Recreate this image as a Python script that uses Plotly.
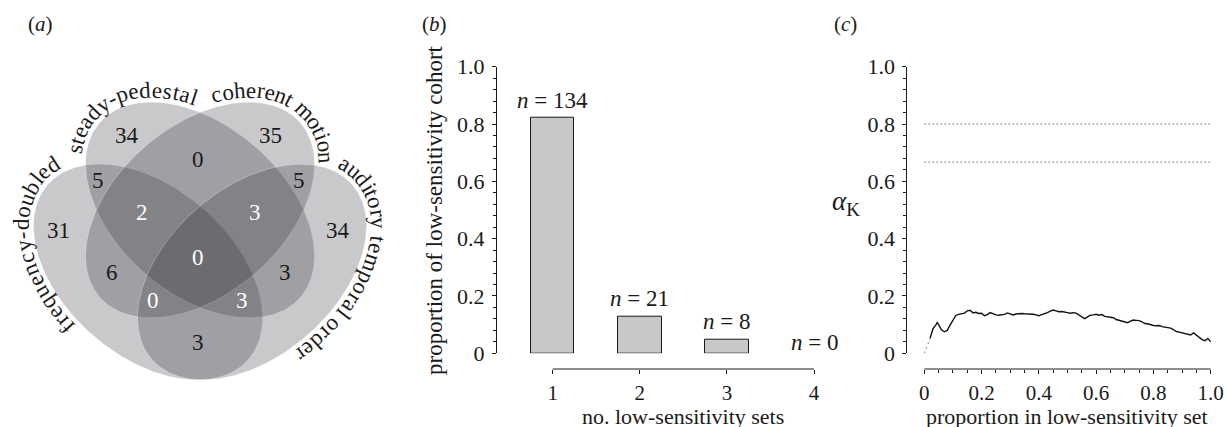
import numpy as np
import plotly.graph_objects as go

W, H = 1229, 427
FONT = "Liberation Serif, Times New Roman, serif"
INK = "#1a1a1a"

# ---------------- data ----------------
# (a) Venn diagram
SET_KEYS = ["F", "S", "C", "A"]
SET_NAMES = ["frequency-doubled", "steady-pedestal", "coherent motion", "auditory temporal order"]
REGION_KEYS = ["S", "C", "SC", "FS", "CA", "F", "FSC", "SCA", "A", "FSCA", "FC", "SA", "FCA", "FSA", "FA"]
REGION_COUNTS = [34, 35, 0, 5, 5, 31, 2, 3, 34, 0, 6, 3, 0, 3, 3]

# (b) bar chart
N_SETS = [1, 2, 3, 4]
N_COUNTS = [134, 21, 8, 0]

# (c) alpha_K curve
PROP_START = [0.0, 0.005, 0.01, 0.015, 0.02]
ALPHA_START = [0.0, 0.012, 0.026, 0.040, 0.052]
PROP = [0.02, 0.03, 0.04, 0.045, 0.05, 0.055, 0.06, 0.07, 0.08, 0.09,
        0.10, 0.11, 0.12, 0.13, 0.14, 0.15, 0.16, 0.17, 0.18, 0.19,
        0.20, 0.21, 0.22, 0.23, 0.24, 0.25, 0.26, 0.27, 0.28, 0.29,
        0.30, 0.31, 0.32, 0.33, 0.34, 0.35, 0.36, 0.37, 0.38, 0.39,
        0.40, 0.41, 0.42, 0.43, 0.44, 0.45, 0.46, 0.47, 0.48, 0.49,
        0.50, 0.51, 0.52, 0.53, 0.54, 0.55, 0.56, 0.57, 0.58, 0.59,
        0.60, 0.61, 0.62, 0.63, 0.64, 0.65, 0.66, 0.67, 0.68, 0.69,
        0.70, 0.71, 0.72, 0.73, 0.74, 0.75, 0.76, 0.77, 0.78, 0.79,
        0.80, 0.81, 0.82, 0.83, 0.84, 0.85, 0.86, 0.87, 0.88, 0.89,
        0.90, 0.91, 0.92, 0.93, 0.94, 0.95, 0.96, 0.97, 0.98, 0.99, 1.00]
ALPHA_K = [0.052, 0.085, 0.098, 0.107, 0.100, 0.088, 0.082, 0.075, 0.080, 0.098,
           0.115, 0.132, 0.136, 0.137, 0.140, 0.148, 0.150, 0.141, 0.143, 0.139,
           0.140, 0.131, 0.135, 0.142, 0.138, 0.134, 0.133, 0.135, 0.136, 0.141,
           0.138, 0.134, 0.137, 0.139, 0.139, 0.138, 0.138, 0.137, 0.136, 0.134,
           0.131, 0.135, 0.138, 0.142, 0.147, 0.151, 0.148, 0.145, 0.146, 0.143,
           0.142, 0.140, 0.142, 0.140, 0.132, 0.127, 0.121, 0.126, 0.133, 0.134,
           0.136, 0.133, 0.135, 0.129, 0.128, 0.126, 0.124, 0.118, 0.115, 0.113,
           0.109, 0.107, 0.112, 0.116, 0.115, 0.114, 0.110, 0.104, 0.103, 0.099,
           0.097, 0.096, 0.097, 0.093, 0.091, 0.089, 0.088, 0.083, 0.076, 0.074,
           0.071, 0.069, 0.066, 0.064, 0.071, 0.063, 0.056, 0.048, 0.044, 0.052, 0.040]
THRESHOLDS = [0.8, 0.667]

Y_TICKS = [0, 0.2, 0.4, 0.6, 0.8, 1.0]
Y_TICKTEXT = ["0", "0.2", "0.4", "0.6", "0.8", "1.0"]
X_TICKS_C = [0, 0.2, 0.4, 0.6, 0.8, 1.0]
X_TICKTEXT_C = ["0", "0.2", "0.4", "0.6", "0.8", "1.0"]

# ---------------- layout constants (pixels) ----------------
ELL_A, ELL_B = 133.0, 84.0
ELLIPSE_GEOM = {"F": (148, 272, 41), "S": (200, 210, 41), "C": (200, 210, 139), "A": (252, 272, 139)}
ELL_FILL = "rgba(40,40,46,0.25)"
ELL_EDGE = "rgba(255,255,255,0.35)"
VENN_LABEL_POS = {"S": (127, 135), "C": (270, 135), "SC": (198, 159), "FS": (98, 180), "CA": (299, 180),
                  "F": (58, 230), "FSC": (142, 212), "SCA": (255, 212), "A": (338, 230),
                  "FSCA": (198, 257), "FC": (112, 272), "SA": (285, 272), "FCA": (153, 300),
                  "FSA": (242, 300), "FA": (198, 342)}
LABEL_ARCS = {"S": ((73, 148), (193, 100)), "C": ((217, 97), (325, 158)),
              "F": ((69, 326), (53, 164)), "A": ((343, 166), (302, 355))}
LABEL_OFFSET = 12
TIMES_W = {"a": 444, "b": 500, "c": 444, "d": 500, "e": 444, "f": 333, "h": 500, "i": 278, "l": 278,
           "m": 778, "n": 500, "o": 500, "p": 500, "q": 500, "r": 333, "s": 389, "t": 278, "u": 500,
           "v": 500, "y": 500, "-": 333, " ": 250}


def px_x(p):
    return p / W


def px_y(p):
    return 1 - p / H


fig = go.Figure()
annotations = []


# ---------------- (a) Venn ----------------
def ellipse_curve(key, offset=0.0, n=2400):
    cx, cy, th = ELLIPSE_GEOM[key]
    th = np.radians(th)
    t = np.linspace(0, 2 * np.pi, n, endpoint=False)
    ux, uy = np.cos(th), np.sin(th)
    vx, vy = -np.sin(th), np.cos(th)
    x = cx + ELL_A * np.cos(t) * ux + ELL_B * np.sin(t) * vx
    y = cy + ELL_A * np.cos(t) * uy + ELL_B * np.sin(t) * vy
    dx = -ELL_A * np.sin(t) * ux + ELL_B * np.cos(t) * vx
    dy = -ELL_A * np.sin(t) * uy + ELL_B * np.cos(t) * vy
    nr = np.hypot(dx, dy)
    return x + offset * dy / nr, y - offset * dx / nr, dx, dy


for key in SET_KEYS:
    x, y, _, _ = ellipse_curve(key, 0.0, 400)
    fig.add_trace(go.Scatter(x=np.append(x, x[0]), y=np.append(y, y[0]), mode="lines", fill="toself",
                             fillcolor=ELL_FILL, line=dict(color=ELL_EDGE, width=0.8),
                             xaxis="x", yaxis="y", hoverinfo="skip", showlegend=False))

for rk, cnt in zip(REGION_KEYS, REGION_COUNTS):
    px, py = VENN_LABEL_POS[rk]
    annotations.append(dict(x=px, y=py, xref="x", yref="y", text=str(cnt), showarrow=False,
                            font=dict(family=FONT, size=23, color="white" if len(rk) >= 3 else INK),
                            xanchor="center", yanchor="middle"))


def arc_text(key, text, size):
    ox, oy, tx, ty = ellipse_curve(key, LABEL_OFFSET)
    n = len(ox)
    p0, p1 = LABEL_ARCS[key]
    i0 = int(np.argmin(np.hypot(ox - p0[0], oy - p0[1])))
    i1 = int(np.argmin(np.hypot(ox - p1[0], oy - p1[1])))
    idx = (i0 + np.arange((i1 - i0) % n + 1)) % n
    xs, ys, txs, tys = ox[idx], oy[idx], tx[idx], ty[idx]
    s = np.concatenate([[0], np.cumsum(np.hypot(np.diff(xs), np.diff(ys)))])
    w = np.array([TIMES_W.get(ch, 500) for ch in text], float)
    c = np.cumsum(w) - w / 2
    c = (c - c[0]) / (c[-1] - c[0]) * s[-1]
    for ch, sc in zip(text, c):
        if ch == " ":
            continue
        x = np.interp(sc, s, xs)
        y = np.interp(sc, s, ys)
        ang = np.degrees(np.arctan2(np.interp(sc, s, tys), np.interp(sc, s, txs)))
        annotations.append(dict(x=float(x), y=float(y), xref="x", yref="y", text=ch, showarrow=False,
                                textangle=float(ang), xanchor="center", yanchor="middle",
                                font=dict(family=FONT, size=size, color=INK)))


for key, name in zip(SET_KEYS, SET_NAMES):
    arc_text(key, name, 23)

# ---------------- (b) bars ----------------
total = sum(N_COUNTS)
props = [c / total for c in N_COUNTS]
fig.add_trace(go.Bar(x=N_SETS, y=props, width=0.5,
                     marker=dict(color="#c8c8ca",
                                 line=dict(color=INK, width=[1 if c > 0 else 0 for c in N_COUNTS])),
                     xaxis="x2", yaxis="y2", showlegend=False, hoverinfo="skip"))
N_LABEL_SHIFT = [3, 3, 3, -4]
for xs_, p, c, sh in zip(N_SETS, props, N_COUNTS, N_LABEL_SHIFT):
    annotations.append(dict(x=xs_, y=p, xref="x2", yref="y2", text=f"<i>n</i> = {c}", showarrow=False,
                            xanchor="center", yanchor="bottom", yshift=sh,
                            font=dict(family=FONT, size=23, color=INK)))

# ---------------- (c) curve ----------------
for th in THRESHOLDS:
    fig.add_trace(go.Scatter(x=[X_TICKS_C[0], X_TICKS_C[-1]], y=[th, th], mode="lines",
                             line=dict(color="#8a8a8a", width=1, dash="2px,2px"),
                             xaxis="x3", yaxis="y3", showlegend=False, hoverinfo="skip"))
fig.add_trace(go.Scatter(x=PROP_START, y=ALPHA_START, mode="lines",
                         line=dict(color="#9a9a9a", width=1.2, dash="2px,3px"),
                         xaxis="x3", yaxis="y3", showlegend=False, hoverinfo="skip"))
fig.add_trace(go.Scatter(x=PROP, y=ALPHA_K, mode="lines", line=dict(color="#111111", width=1.4),
                         xaxis="x3", yaxis="y3", showlegend=False, hoverinfo="skip"))

# ---------------- axes ----------------
tickfont = dict(family=FONT, size=22, color=INK)
xtickfont = dict(family=FONT, size=21, color=INK)
ydom = [px_y(353.3), px_y(66.7)]
xpos = px_y(369)

b_left, b_right, b_one, b_step = 497.0, 840.0, 552.7, 87.1
c_left, c_right, c_zero, c_unit = 907.3, 1229.0, 924.3, 286.4

yax = dict(domain=ydom, range=[0, 1], showline=True, linecolor=INK, linewidth=1, showgrid=False,
           zeroline=False, ticks="outside", ticklen=4, tickwidth=1, tickcolor=INK, automargin=False,
           tickmode="array", tickvals=Y_TICKS, ticktext=Y_TICKTEXT, tickfont=tickfont,
           ticklabelstandoff=3,
           minor=dict(tickmode="linear", tick0=0, dtick=0.04, ticks="outside", ticklen=3,
                      tickwidth=1, tickcolor=INK, showgrid=False))

fig.update_layout(
    width=W, height=H, margin=dict(l=0, r=0, t=0, b=0, pad=0, autoexpand=False),
    paper_bgcolor="white", plot_bgcolor="white", bargap=0,
    xaxis=dict(domain=[0, 400 / W], range=[0, 400], visible=False, fixedrange=True, automargin=False),
    yaxis=dict(domain=[0, 1], range=[H, 0], visible=False, fixedrange=True, anchor="x", automargin=False),
    xaxis2=dict(domain=[px_x(b_left), px_x(b_right)],
                range=[1 - (b_one - b_left) / b_step, 1 + (b_right - b_one) / b_step],
                anchor="free", position=xpos, showline=False, showgrid=False, zeroline=False,
                ticks="outside", ticklen=4, tickwidth=1, tickcolor=INK, automargin=False,
                tickmode="array", tickvals=N_SETS, ticktext=[str(v) for v in N_SETS],
                tickfont=xtickfont, ticklabelstandoff=1, ticklabeloverflow="allow"),
    yaxis2=dict(anchor="x2", **yax),
    xaxis3=dict(domain=[px_x(c_left), px_x(c_right)],
                range=[-(c_zero - c_left) / c_unit, (c_right - c_zero) / c_unit],
                anchor="free", position=xpos, showline=False, showgrid=False, zeroline=False,
                ticks="outside", ticklen=4, tickwidth=1, tickcolor=INK, automargin=False,
                tickmode="array", tickvals=X_TICKS_C, ticktext=X_TICKTEXT_C,
                tickfont=xtickfont, ticklabelstandoff=1, ticklabeloverflow="allow",
                minor=dict(tickmode="array", tickvals=[round(0.05 * k, 2) for k in range(21)],
                           ticks="outside", ticklen=3, tickwidth=1, tickcolor=INK, showgrid=False)),
    yaxis3=dict(anchor="x3", **yax),
    shapes=[
        dict(type="line", xref="x2", yref="paper", x0=N_SETS[0], x1=N_SETS[-1], y0=xpos, y1=xpos,
             line=dict(color=INK, width=1)),
        dict(type="line", xref="x3", yref="paper", x0=X_TICKS_C[0], x1=X_TICKS_C[-1], y0=xpos, y1=xpos,
             line=dict(color=INK, width=1)),
    ],
)

titlefont = dict(family=FONT, size=22, color=INK)
annotations += [
    dict(x=px_x(683), y=px_y(431), xref="paper", yref="paper", text="no. low-sensitivity sets",
         showarrow=False, xanchor="center", yanchor="bottom", font=titlefont),
    dict(x=px_x(1067), y=px_y(431), xref="paper", yref="paper", text="proportion in low-sensitivity set",
         showarrow=False, xanchor="center", yanchor="bottom", font=titlefont),
    dict(x=px_x(434), y=px_y(210), xref="paper", yref="paper", text="proportion of low-sensitivity cohort",
         showarrow=False, xanchor="center", yanchor="middle", textangle=-90,
         font=dict(family=FONT, size=23, color=INK)),
    dict(x=px_x(846), y=px_y(203), xref="paper", yref="paper", text="<i>α</i><sub>K</sub>",
         showarrow=False, xanchor="center", yanchor="middle", font=dict(family=FONT, size=27, color=INK)),
    dict(x=px_x(40), y=px_y(24), xref="paper", yref="paper", text="(<i>a</i>)", showarrow=False,
         xanchor="center", yanchor="middle", font=dict(family=FONT, size=21, color=INK)),
    dict(x=px_x(434), y=px_y(24), xref="paper", yref="paper", text="(<i>b</i>)", showarrow=False,
         xanchor="center", yanchor="middle", font=dict(family=FONT, size=21, color=INK)),
    dict(x=px_x(845), y=px_y(24), xref="paper", yref="paper", text="(<i>c</i>)", showarrow=False,
         xanchor="center", yanchor="middle", font=dict(family=FONT, size=21, color=INK)),
]
fig.update_layout(annotations=annotations)

fig.write_html("out.html", config={"displayModeBar": False},
               post_script="document.body.style.margin='0';document.body.style.padding='0';")
